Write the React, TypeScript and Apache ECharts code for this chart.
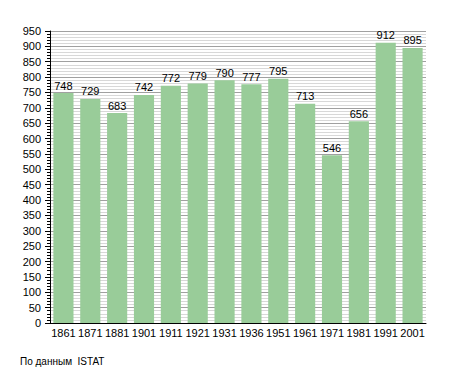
import React, { useEffect, useRef } from "react";
import * as echarts from "echarts";

const years = ["1861", "1871", "1881", "1901", "1911", "1921", "1931", "1936", "1951", "1961", "1971", "1981", "1991", "2001"];
const population = [748, 729, 683, 742, 772, 779, 790, 777, 795, 713, 546, 656, 912, 895];
const sourceNote = "По данным  ISTAT";

export default function App() {
  const ref = useRef<HTMLDivElement>(null);
  useEffect(() => {
    const chart = echarts.init(ref.current!, null, { renderer: "svg" });
    chart.setOption({
      animation: false,
      textStyle: { fontFamily: "Liberation Sans, Arial, sans-serif" },
      grid: { left: 50, right: 29, top: 31, bottom: 50 },
      xAxis: {
        type: "category",
        data: years,
        axisLine: { lineStyle: { color: "#000", width: 1 } },
        axisTick: { show: false },
        axisLabel: { color: "#000", fontSize: 11, margin: 4, interval: 0 },
      },
      yAxis: {
        type: "value",
        min: 0,
        max: 950,
        interval: 50,
        axisLine: { show: true, lineStyle: { color: "#000", width: 1 } },
        axisTick: { show: true, length: 5, lineStyle: { color: "#000" } },
        minorTick: { show: true, splitNumber: 5, length: 3, lineStyle: { color: "#000" } },
        axisLabel: { color: "#000", fontSize: 11, margin: 9 },
        splitLine: { show: true, lineStyle: { color: "#a0a0a0", width: 1 } },
        minorSplitLine: { show: true, lineStyle: { color: "#d8d8d8", width: 1 } },
      },
      series: [
        {
          type: "bar",
          data: population,
          barCategoryGap: "25%",
          itemStyle: { color: "#99cc99" },
          label: { show: true, position: "top", color: "#000", fontSize: 11, distance: 2 },
        },
      ],
      graphic: [
        {
          type: "text",
          left: 20,
          top: 356,
          style: { text: sourceNote, fill: "#000", fontSize: 10, fontFamily: "Liberation Sans, Arial, sans-serif" },
        },
      ],
    });
    return () => chart.dispose();
  }, []);
  return <div ref={ref} style={{ position: "absolute", left: 0, top: 0, width: 455, height: 373 }} />;
}
